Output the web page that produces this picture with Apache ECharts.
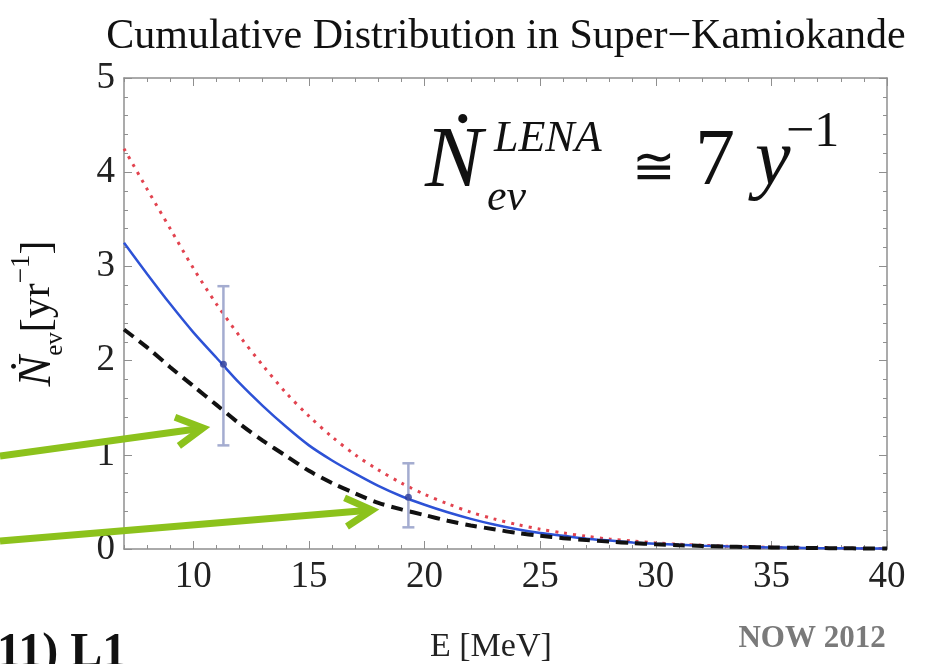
<!DOCTYPE html>
<html>
<head>
<meta charset="utf-8">
<script src="https://cdn.jsdelivr.net/npm/echarts@6/dist/echarts.min.js"></script>
<style>
html, body { margin: 0; padding: 0; background: #ffffff; }
#chart { width: 925px; height: 664px; }
</style>
</head>
<body>
<div id="chart"></div>
<script>
// Neutrino energy threshold (MeV) at which the cumulative rate is evaluated
const energy = [7, 8, 9, 10, 11, 12, 13, 14, 15, 16, 17, 18, 19, 20, 21, 22, 23,
  24, 25, 26, 27, 28, 29, 30, 31, 32, 33, 34, 35, 36, 37, 38, 39, 40];

// Cumulative event rate above E, events per year
const rateSolid = [3.25, 2.92, 2.60, 2.30, 2.03, 1.76, 1.52, 1.30, 1.10, 0.94, 0.80,
  0.67, 0.56, 0.47, 0.39, 0.32, 0.26, 0.21, 0.17, 0.14, 0.11, 0.09, 0.07, 0.055,
  0.045, 0.035, 0.028, 0.022, 0.017, 0.013, 0.010, 0.008, 0.006, 0.005];
const rateDotted = [4.25, 3.82, 3.40, 2.98, 2.60, 2.26, 1.95, 1.66, 1.41, 1.19, 1.00,
  0.84, 0.70, 0.58, 0.48, 0.39, 0.32, 0.26, 0.21, 0.17, 0.135, 0.105, 0.085, 0.065,
  0.050, 0.040, 0.030, 0.024, 0.018, 0.014, 0.011, 0.008, 0.006, 0.005];
const rateDashed = [2.33, 2.14, 1.93, 1.73, 1.53, 1.33, 1.15, 0.99, 0.83, 0.70, 0.59,
  0.49, 0.42, 0.36, 0.30, 0.25, 0.21, 0.17, 0.14, 0.115, 0.095, 0.078, 0.063, 0.050,
  0.040, 0.033, 0.026, 0.021, 0.017, 0.013, 0.010, 0.008, 0.006, 0.005];

// Points with uncertainty bands
const errE = [11.3, 19.3];
const errMid = [1.96, 0.55];
const errLow = [1.10, 0.23];
const errHigh = [2.79, 0.91];

// Tick labels
const xMajorTicks = [10, 15, 20, 25, 30, 35, 40];
const xMinorTicks = [7, 8, 9, 11, 12, 13, 14, 16, 17, 18, 19, 21, 22, 23, 24, 26, 27,
  28, 29, 31, 32, 33, 34, 36, 37, 38, 39];
const yTickLabels = [0, 1, 2, 3, 4, 5];

const SERIF = "'Liberation Serif', 'DejaVu Serif', serif";
const FRAME = '#8f8f8f';
const GREEN = '#8cc21c';

function pairs(xs, ys) { return xs.map((x, i) => [x, ys[i]]); }

function xAxisDef(position, ticks, tickLen, withLine, withLabels) {
  return {
    type: 'value', min: 7, max: 40, position: position, offset: 0,
    axisLine: { show: withLine, onZero: false, lineStyle: { color: FRAME, width: 1.5 } },
    axisTick: { show: true, inside: true, length: tickLen, customValues: ticks,
      lineStyle: { color: FRAME, width: 1 } },
    axisLabel: { show: withLabels, customValues: xMajorTicks, fontFamily: SERIF,
      fontSize: 37, color: '#222', margin: 10 },
    splitLine: { show: false }
  };
}

function yAxisDef(position, withLabels) {
  return {
    type: 'value', min: 0, max: 5, interval: 1, position: position, offset: 0,
    axisLine: { show: true, onZero: false, lineStyle: { color: FRAME, width: 1.5 } },
    axisTick: { show: true, inside: true, length: 8, lineStyle: { color: FRAME, width: 1 } },
    minorTick: { show: true, splitNumber: 5, length: 4, lineStyle: { color: FRAME, width: 1 } },
    axisLabel: { show: withLabels, fontFamily: SERIF, fontSize: 37, color: '#222', margin: 9,
      formatter: v => yTickLabels.includes(v) ? String(v) : '' },
    splitLine: { show: false }
  };
}

// Green pointer arrows (tail -> tip in screen pixels)
function arrow(x0, y0, x1, y1) {
  const ang = Math.atan2(y1 - y0, x1 - x0);
  const arm = 30, spread = 0.5;
  const a1 = [x1 - arm * Math.cos(ang - spread), y1 - arm * Math.sin(ang - spread)];
  const a2 = [x1 - arm * Math.cos(ang + spread), y1 - arm * Math.sin(ang + spread)];
  const st = { stroke: GREEN, lineWidth: 7, fill: null, lineJoin: 'miter', lineCap: 'butt' };
  return [
    { type: 'polyline', z: 100, shape: { points: [[x0, y0], [x1 - 3 * Math.cos(ang), y1 - 3 * Math.sin(ang)]] }, style: st },
    { type: 'polyline', z: 100, shape: { points: [a1, [x1, y1], a2] }, style: st }
  ];
}

function txt(x, y, text, font) {
  return {
    type: 'text', z: 50,
    style: { x: x, y: y, text: text, fill: '#111', font: font + ' ' + SERIF,
      textAlign: 'left', textVerticalAlign: 'bottom' }
  };
}

const chart = echarts.init(document.getElementById('chart'), null, { renderer: 'canvas' });

const option = {
  animation: false,
  backgroundColor: '#ffffff',
  grid: { left: 124, right: 38, top: 78, bottom: 115, containLabel: false, outerBoundsMode: 'none' },
  xAxis: [
    xAxisDef('bottom', xMajorTicks, 8, true, true),
    xAxisDef('bottom', xMinorTicks, 4, false, false),
    xAxisDef('top', xMajorTicks, 8, true, false),
    xAxisDef('top', xMinorTicks, 4, false, false)
  ],
  yAxis: [
    Object.assign(yAxisDef('left', true), {
      name: '{n|Ṅ}{s|ev}{b|[yr}{p|−1}{b|]}',
      nameLocation: 'middle', nameRotate: 90, nameGap: 56,
      nameTextStyle: {
        rich: {
          n: { fontFamily: SERIF, fontSize: 46, fontStyle: 'italic', color: '#111', verticalAlign: 'middle', lineHeight: 60 },
          s: { fontFamily: SERIF, fontSize: 25, color: '#111', verticalAlign: 'bottom', lineHeight: 60 },
          b: { fontFamily: SERIF, fontSize: 42, color: '#111', verticalAlign: 'middle', lineHeight: 60 },
          p: { fontFamily: SERIF, fontSize: 27, color: '#111', verticalAlign: 'top', lineHeight: 60 }
        }
      }
    }),
    yAxisDef('right', false)
  ],
  series: [
    {
      name: 'dotted', type: 'line', xAxisIndex: 0, yAxisIndex: 0,
      data: pairs(energy, rateDotted), smooth: 0.3, symbol: 'none', z: 3,
      lineStyle: { color: '#e2434f', width: 3, type: [3, 6] }
    },
    {
      name: 'solid', type: 'line', xAxisIndex: 0, yAxisIndex: 0,
      data: pairs(energy, rateSolid), smooth: 0.3, symbol: 'none', z: 4,
      lineStyle: { color: '#2d52d6', width: 2.5 }
    },
    {
      name: 'dashed', type: 'line', xAxisIndex: 0, yAxisIndex: 0,
      data: pairs(energy, rateDashed), smooth: 0.3, symbol: 'none', z: 5,
      lineStyle: { color: '#111111', width: 4, type: [12, 7] }
    },
    {
      name: 'bars', type: 'custom', xAxisIndex: 0, yAxisIndex: 0, z: 6,
      data: errE.map((e, i) => [e, errLow[i], errHigh[i]]),
      encode: { x: 0, y: [1, 2] },
      renderItem: function (params, api) {
        const lo = api.coord([api.value(0), api.value(1)]);
        const hi = api.coord([api.value(0), api.value(2)]);
        const cap = 6;
        const st = { stroke: '#a4acd0', lineWidth: 2.5 };
        return {
          type: 'group',
          children: [
            { type: 'line', shape: { x1: lo[0], y1: lo[1], x2: hi[0], y2: hi[1] }, style: st },
            { type: 'line', shape: { x1: lo[0] - cap, y1: lo[1], x2: lo[0] + cap, y2: lo[1] }, style: st },
            { type: 'line', shape: { x1: hi[0] - cap, y1: hi[1], x2: hi[0] + cap, y2: hi[1] }, style: st }
          ]
        };
      }
    },
    {
      name: 'points', type: 'scatter', xAxisIndex: 0, yAxisIndex: 0, z: 7,
      data: pairs(errE, errMid), symbol: 'circle', symbolSize: 7,
      itemStyle: { color: '#2a3c9c' }
    }
  ],
  graphic: [
    {
      type: 'text', z: 50,
      style: { x: 506, y: 37, text: 'Cumulative Distribution in Super−Kamiokande',
        font: 'normal 42px ' + SERIF, fill: '#111', textAlign: 'center', textVerticalAlign: 'middle' }
    },
    {
      type: 'text', z: 50,
      style: { x: 430, y: 647, text: 'E [MeV]', font: 'normal 34px ' + SERIF,
        fill: '#222', textAlign: 'left', textVerticalAlign: 'middle' }
    },
    {
      type: 'text', z: 50,
      style: { x: 812, y: 639, text: 'NOW 2012', font: 'bold 31px ' + SERIF,
        fill: '#7a7a7a', textAlign: 'center', textVerticalAlign: 'middle' }
    },
    {
      type: 'text', z: 50,
      style: { x: -3, y: 678, text: '11) L1', font: 'bold 48px ' + SERIF,
        fill: '#111', textAlign: 'left', textVerticalAlign: 'bottom' }
    },
    // Rate annotation: N-dot_ev^LENA ≅ 7 y^-1
    txt(425, 206, 'Ṅ', 'italic 86px'),
    txt(494, 161, 'LENA', 'italic 44px'),
    txt(487, 220, 'ev', 'italic 44px'),
    txt(632, 196, '≅', 'normal 52px'),
    txt(695, 203, '7', 'normal 80px'),
    txt(755, 203, 'y', 'italic 80px'),
    txt(786, 158, '−1', 'normal 50px')
  ].concat(arrow(0, 456, 203, 428), arrow(0, 541, 372, 510))
};

chart.setOption(option);
</script>
</body>
</html>
